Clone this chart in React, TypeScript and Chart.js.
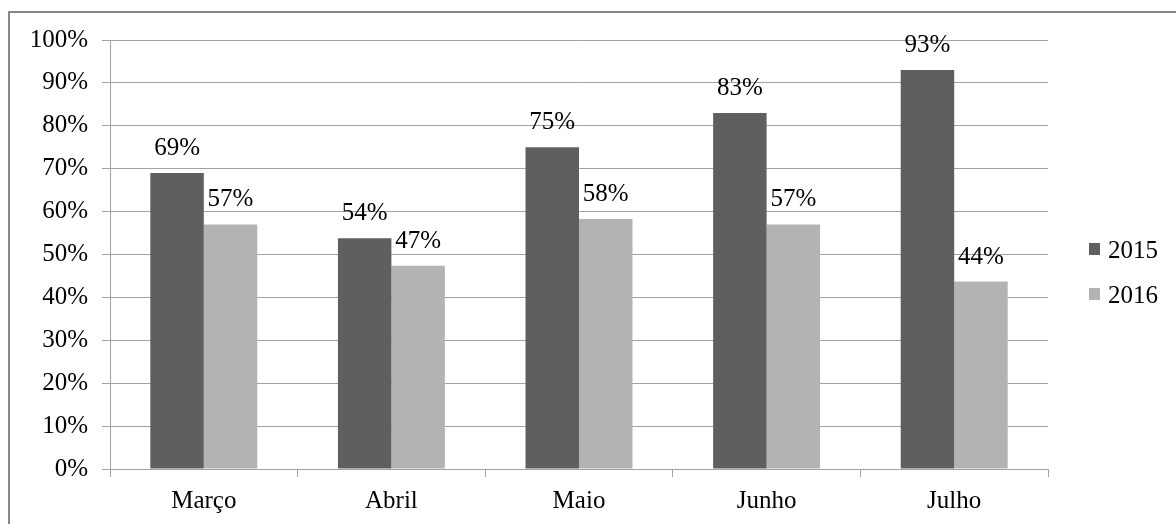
import React, { useEffect, useRef } from 'react';
import { Chart, registerables } from 'chart.js';

Chart.register(...registerables);

const categories = ['Março', 'Abril', 'Maio', 'Junho', 'Julho'];
const seriesNames = ['2015', '2016'];
const values2015 = [69, 53.8, 75, 83, 93];
const values2016 = [57, 47.4, 58.3, 57, 43.7];
const seriesColors = ['#5f5f5f', '#b3b3b3'];

const FONT = "'Liberation Serif', 'Times New Roman', serif";
const GRID = '#a3a3a3';

const labelPlugin = {
  id: 'barLabels',
  afterDatasetsDraw(chart: any) {
    const ctx = chart.ctx;
    ctx.save();
    ctx.font = `25px ${FONT}`;
    ctx.fillStyle = '#000';
    ctx.textAlign = 'center';
    ctx.textBaseline = 'alphabetic';
    chart.data.datasets.forEach((ds: any, i: number) => {
      const meta = chart.getDatasetMeta(i);
      meta.data.forEach((el: any, j: number) => {
        ctx.fillText(Math.round(ds.data[j]) + '%', el.x, el.y - 18);
      });
    });
    ctx.restore();
  },
};

const legendPlugin = {
  id: 'customLegend',
  afterDraw(chart: any) {
    const ctx = chart.ctx;
    const area = chart.chartArea;
    ctx.save();
    ctx.font = `25px ${FONT}`;
    ctx.textAlign = 'left';
    ctx.textBaseline = 'alphabetic';
    chart.data.datasets.forEach((ds: any, i: number) => {
      const x = area.right + 41;
      const y = 243 + i * 45;
      ctx.fillStyle = ds.backgroundColor;
      ctx.fillRect(x, y, 11, 12);
      ctx.fillStyle = '#000';
      ctx.fillText(ds.label, x + 19, y + 15);
    });
    ctx.restore();
  },
};

export default function App() {
  const ref = useRef<HTMLCanvasElement | null>(null);
  useEffect(() => {
    if (!ref.current) return;
    Chart.defaults.font.family = FONT;
    const chart = new Chart(ref.current, {
      type: 'bar',
      data: {
        labels: categories,
        datasets: [
          { label: seriesNames[0], data: values2015, backgroundColor: seriesColors[0] },
          { label: seriesNames[1], data: values2016, backgroundColor: seriesColors[1] },
        ],
      },
      options: {
        animation: false,
        responsive: true,
        maintainAspectRatio: false,
        layout: { padding: { top: 40, right: 128, bottom: 0, left: 0 } },
        datasets: { bar: { categoryPercentage: 0.57, barPercentage: 1 } },
        plugins: { legend: { display: false }, tooltip: { enabled: false } },
        scales: {
          x: {
            grid: { offset: true, drawOnChartArea: false, drawTicks: true, tickLength: 8, color: GRID },
            border: { display: true, color: GRID },
            ticks: { color: '#000', font: { size: 25, family: FONT }, padding: 9 },
            afterFit: (s: any) => { s.height = 55; },
          },
          y: {
            min: 0,
            max: 100,
            grid: { color: GRID, tickLength: 8 },
            border: { display: true, color: GRID },
            ticks: {
              stepSize: 10,
              color: '#000',
              font: { size: 25, family: FONT },
              padding: 14,
              callback: (v: any) => v + '%',
            },
            afterFit: (s: any) => { s.width = 110; },
          },
        },
      },
      plugins: [labelPlugin, legendPlugin],
    });
    return () => chart.destroy();
  }, []);

  return (
    <div style={{ position: 'fixed', left: 0, top: 0, width: 1176, height: 524, overflow: 'hidden', background: '#fff' }}>
      <div style={{ position: 'absolute', left: 8, top: 11, width: 1300, height: 700, border: '2px solid #878787', boxSizing: 'border-box' }} />
      <div style={{ position: 'absolute', left: 0, top: 0, width: 1176, height: 524 }}>
        <canvas ref={ref} />
      </div>
    </div>
  );
}
